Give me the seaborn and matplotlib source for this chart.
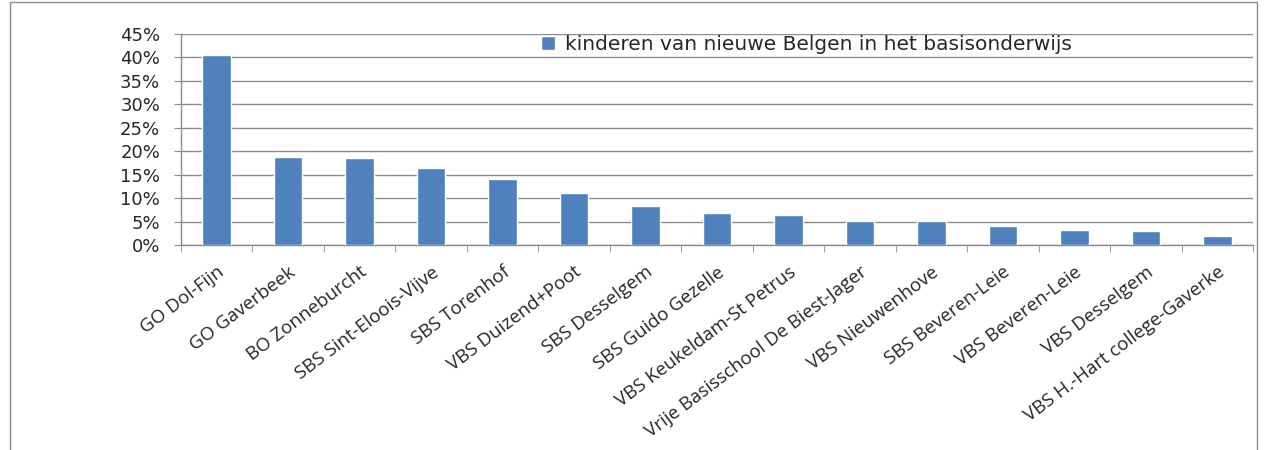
"""
Share of children of new Belgians per primary school, bar chart.
"""
import numpy as np
import pandas as pd
from matplotlib import pyplot as plt
from matplotlib.patches import Rectangle
from matplotlib.ticker import FixedLocator, PercentFormatter
import seaborn as sns

schools = [
    "GO Dol-Fijn",
    "GO Gaverbeek",
    "BO Zonneburcht",
    "SBS Sint-Eloois-Vijve",
    "SBS Torenhof",
    "VBS Duizend+Poot",
    "SBS Desselgem",
    "SBS Guido Gezelle",
    "VBS Keukeldam-St Petrus",
    "Vrije Basisschool De Biest-Jager",
    "VBS Nieuwenhove",
    "SBS Beveren-Leie",
    "VBS Beveren-Leie",
    "VBS Desselgem",
    "VBS H.-Hart college-Gaverke",
]
share = [40.6, 18.8, 18.6, 16.5, 14.1, 11.0, 8.4, 6.8, 6.4, 5.1, 5.1, 4.0, 3.2, 2.9, 1.9]
series_name = "kinderen van nieuwe Belgen in het basisonderwijs"

BLUE = "#4f81bd"
GRID = "#8c8c8c"


def plot(outfile):
    data = pd.DataFrame({"school": schools, "share": share, "series": series_name})

    sns.set_style("white")
    plt.rcParams["font.family"] = ["DejaVu Sans"]
    fig, ax = plt.subplots(figsize=(12.64, 4.5), dpi=100)
    fig.subplots_adjust(left=0.1432, right=0.9913, top=0.9244, bottom=0.4556)

    sns.barplot(
        data=data,
        x="school",
        y="share",
        hue="series",
        palette=[BLUE],
        width=0.4,
        saturation=1.0,
        dodge=False,
        zorder=3,
        ax=ax,
    )

    # Axes and grid
    ax.set_ylim(0, 45)
    ax.set_xlim(-0.5, len(schools) - 0.5)
    ax.yaxis.set_major_locator(FixedLocator(np.arange(0, 46, 5)))
    ax.yaxis.set_major_formatter(PercentFormatter(decimals=0))
    ax.grid(axis="y", color=GRID, lw=1)
    for side in ["top", "right"]:
        ax.spines[side].set_visible(False)
    for side in ["left", "bottom"]:
        ax.spines[side].set_color(GRID)
        ax.spines[side].set_linewidth(1)
    ax.set_xlabel("")
    ax.set_ylabel("")

    ax.tick_params(axis="y", left=True, length=5, color=GRID, labelsize=13, pad=10)
    ax.tick_params(axis="x", which="major", length=0, pad=13)
    ax.xaxis.set_minor_locator(FixedLocator(np.arange(-0.5, len(schools), 1)))
    ax.tick_params(axis="x", which="minor", bottom=True, length=5, color=GRID)
    plt.setp(
        ax.get_xticklabels(),
        rotation=37,
        ha="right",
        rotation_mode="anchor",
        fontsize=13.5,
        family="Open Sans",
    )

    # Legend
    ax.legend(
        loc="upper left",
        bbox_to_anchor=(533 / 1264, 1 - 27 / 450),
        bbox_transform=fig.transFigure,
        frameon=False,
        handlelength=0.7,
        handleheight=0.7,
        handletextpad=0.5,
        fontsize=14.5,
        borderaxespad=0,
    )

    # Outer chart border
    fig.patches.append(
        Rectangle(
            (10 / 1264, -0.05),
            1247 / 1264,
            1 - 2 / 450 + 0.05,
            transform=fig.transFigure,
            fill=False,
            edgecolor="#8c8c8c",
            lw=1,
        )
    )

    plt.savefig(outfile, dpi=100)


plot("out.png")
